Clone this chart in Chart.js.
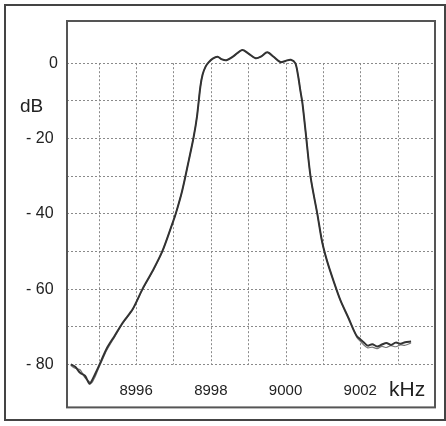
<!DOCTYPE html>
<html>
<head>
<meta charset="utf-8">
<script src="https://cdn.jsdelivr.net/npm/chart.js@4"></script>
<style>
  body { margin: 0; background: #fff; }
  #wrap { width: 446px; height: 426px; }
</style>
</head>
<body>
<div id="wrap"><canvas id="myChart"></canvas></div>
<script>
// Crystal filter passband response, two sweeps

const freqs = [8994.25, 8994.37, 8994.50, 8994.63, 8994.75, 8994.81, 8994.90, 8994.98, 8995.07, 8995.21,
  8995.43, 8995.65, 8995.91, 8996.17, 8996.44, 8996.70, 8996.97, 8997.06, 8997.23, 8997.41,
  8997.54, 8997.63, 8997.72, 8997.78, 8997.86, 8997.94, 8998.05, 8998.18, 8998.30, 8998.42,
  8998.60, 8998.84, 8999.00, 8999.20, 8999.35, 8999.51, 8999.68, 8999.86, 9000.00, 9000.14,
  9000.26, 9000.33, 9000.40, 9000.45, 9000.54, 9000.67, 9000.85, 9000.98, 9001.11, 9001.29,
  9001.47, 9001.69, 9001.82, 9001.91, 9002.00, 9002.09, 9002.20, 9002.32, 9002.45, 9002.58,
  9002.70, 9002.82, 9002.95, 9003.08, 9003.20, 9003.36]

const sweep1 = [-80.0, -80.6, -82.2, -83.0, -85.1, -84.4, -82.6, -80.9, -78.9, -75.8,
  -72.3, -68.8, -65.3, -60.0, -55.2, -50.0, -42.6, -40.0, -34.0, -25.8,
  -19.6, -14.1, -6.2, -3.0, -0.9, 0.2, 1.2, 1.7, 1.0, 0.8,
  1.8, 3.5, 2.6, 1.3, 1.8, 2.9, 1.7, 0.3, 0.6, 0.9,
  0.0, -3.0, -7.5, -10.5, -18.5, -30.2, -40.0, -47.5, -52.5, -58.0,
  -63.0, -67.8, -70.8, -72.5, -73.3, -74.1, -75.0, -74.6, -75.2, -74.7,
  -74.3, -74.8, -74.2, -74.5, -74.1, -73.9]

const sweep2 = [-80.3, -81.0, -81.4, -83.5, -84.6, -84.9, -83.3, -81.4, -79.4, -76.3,
  -72.6, -69.0, -65.4, -60.1, -55.3, -50.0, -42.6, -40.0, -34.0, -25.8,
  -19.6, -14.1, -6.2, -3.0, -0.9, 0.2, 1.2, 1.7, 1.0, 0.8,
  1.8, 3.5, 2.6, 1.3, 1.8, 2.9, 1.7, 0.3, 0.6, 0.9,
  0.0, -3.0, -7.5, -10.5, -18.5, -30.2, -40.0, -47.5, -52.5, -58.0,
  -63.0, -67.8, -70.8, -72.8, -73.8, -74.8, -75.6, -75.4, -75.8, -75.2,
  -75.5, -75.0, -75.3, -74.8, -74.9, -74.3]

const xTicks = [8995, 8996, 8997, 8998, 8999, 9000, 9001, 9002, 9003]
const xLabelled = [8996, 8998, 9000, 9002]
const yTicks = [-80, -70, -60, -50, -40, -30, -20, -10, 0]
const yLabelled = [-80, -60, -40, -20, 0]

const FONT = "'Liberation Sans', Arial, sans-serif"

const frame = {
  id: 'frame',
  beforeDatasetsDraw(chart) {
    const c = chart.ctx
    const x = chart.scales.x, y = chart.scales.y
    // vertical grid only between 0 and -80 dB
    c.save()
    c.strokeStyle = '#8a8a8a'
    c.lineWidth = 1
    c.setLineDash([2, 2])
    const top = y.getPixelForValue(0), bot = y.getPixelForValue(-80)
    xTicks.forEach(v => {
      const px = Math.round(x.getPixelForValue(v)) + 0.5
      c.beginPath()
      c.moveTo(px, top)
      c.lineTo(px, bot)
      c.stroke()
    })
    c.restore()
  },
  afterDraw(chart) {
    const c = chart.ctx, a = chart.chartArea
    c.save()
    c.strokeStyle = '#555'
    c.lineWidth = 2
    c.strokeRect(a.left, a.top, a.right - a.left, a.bottom - a.top)
    c.strokeStyle = '#444'
    c.strokeRect(5, 5, 440, 415)
    c.fillStyle = '#222'
    c.textBaseline = 'middle'
    c.textAlign = 'left'
    c.font = '19px ' + FONT
    c.fillText('dB', 20, 107)
    c.font = '21px ' + FONT
    c.fillText('kHz', 389, 390)
    c.restore()
  }
}

const data = {
  datasets: [{
    label: 'sweep 1',
    data: freqs.map((f, i) => ({x: f, y: sweep1[i]})),
    borderColor: '#333',
    borderWidth: 2,
    pointRadius: 0,
    tension: 0.3
  }, {
    label: 'sweep 2',
    data: freqs.map((f, i) => ({x: f, y: sweep2[i]})),
    borderColor: '#777',
    borderWidth: 1.2,
    pointRadius: 0,
    tension: 0.3
  }]
}

const options = {
  responsive: true,
  maintainAspectRatio: false,
  animation: false,
  layout: { padding: { top: 21, right: 11, bottom: 17, left: 0 } },
  plugins: {
    legend: { display: false },
    tooltip: { enabled: false }
  },
  scales: {
    x: {
      type: 'linear',
      min: 8994.15,
      max: 9004.0,
      position: { y: -80 },
      afterBuildTicks: s => { s.ticks = xTicks.map(v => ({value: v})) },
      grid: { display: false },
      border: { display: false },
      ticks: {
        padding: 9,
        color: '#222',
        font: { family: FONT, size: 15 },
        maxRotation: 0,
        autoSkip: false,
        callback: v => xLabelled.includes(v) ? String(v) : ''
      }
    },
    y: {
      min: -91.4,
      max: 11.2,
      afterBuildTicks: s => { s.ticks = yTicks.map(v => ({value: v})) },
      afterFit: s => { s.width = 67 },
      border: { display: false, dash: [2, 2] },
      grid: {
        color: '#8a8a8a',
        lineWidth: 1,
        drawTicks: false
      },
      ticks: {
        padding: 9,
        color: '#222',
        font: { family: FONT, size: 16 },
        autoSkip: false,
        callback: v => yLabelled.includes(v) ? (v === 0 ? '0' : '- ' + Math.abs(v) + ' ') : ''
      }
    }
  }
}

const chart = new Chart(document.querySelector('#myChart'), {
  type: 'line',
  data: data,
  options: options,
  plugins: [frame]
})
</script>
</body>
</html>
